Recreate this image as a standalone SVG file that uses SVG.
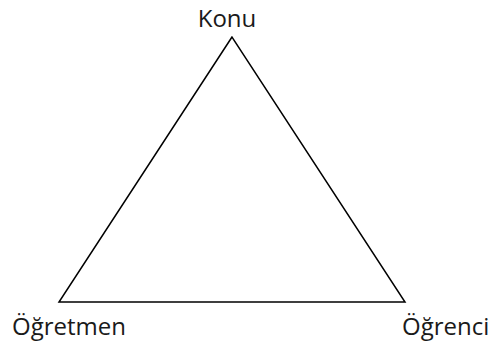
<svg xmlns="http://www.w3.org/2000/svg" width="492" height="347" viewBox="0 0 492 347">
<style>
.lbl{font-family:"Open Sans","Noto Sans",sans-serif;font-size:24px;fill:#1a1a1a}
.edge{stroke:#000;stroke-width:1.5;fill:none;stroke-linejoin:miter}
</style>
<rect width="492" height="347" fill="#fff"/>
<g id="connectors">
<polygon class="edge" points="232,37 59,302 405,302"/>
</g>
<g id="konu"><text class="lbl" x="227" y="27" text-anchor="middle">Konu</text></g>
<g id="ogretmen"><text class="lbl" x="12" y="335">Öğretmen</text></g>
<g id="ogrenci"><text class="lbl" x="402" y="335">Öğrenci</text></g>
</svg>
